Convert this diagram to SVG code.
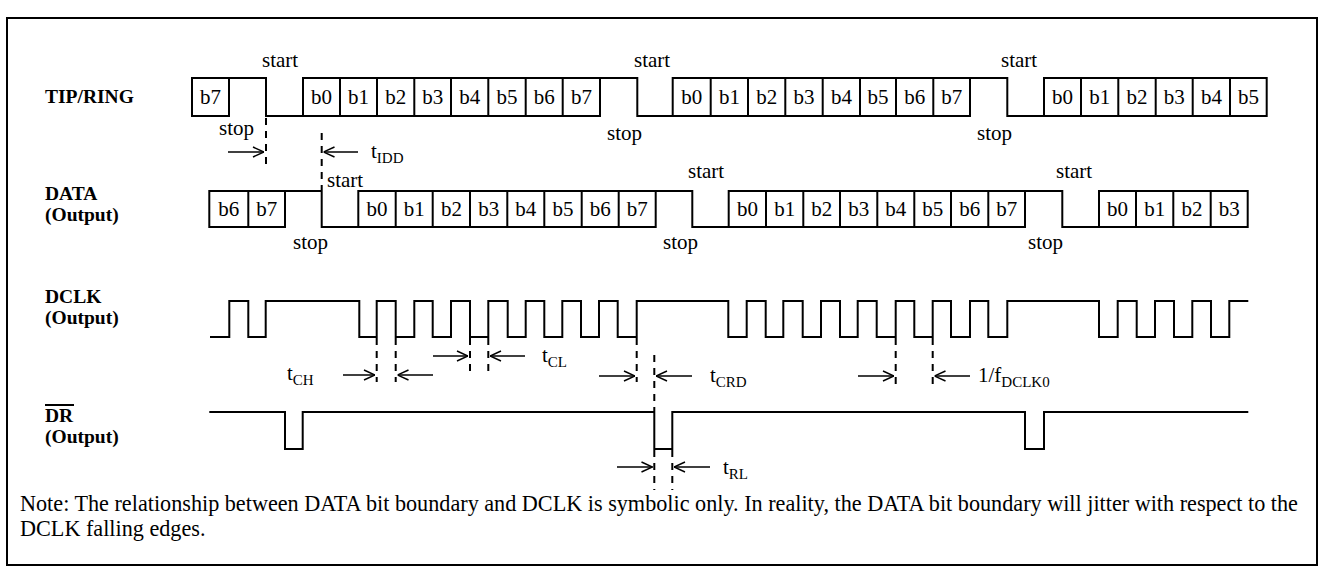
<svg xmlns="http://www.w3.org/2000/svg" width="1327" height="582" viewBox="0 0 1327 582">
<style>
.w{fill:none;stroke:#000;stroke-width:2;stroke-linejoin:miter}
.d{fill:none;stroke:#000;stroke-width:2;stroke-dasharray:7 6}
.a{fill:none;stroke:#000;stroke-width:1.5;marker-end:url(#ah)}
text{font-family:"Liberation Serif","Times New Roman",serif;fill:#000}
.t{font-size:21px}
.b{font-size:21px;text-anchor:middle}
.l{font-size:19.5px;font-weight:bold}
.n{font-size:22.2px}
.s{font-size:15px}
</style>
<defs>
<marker id="ah" viewBox="0 0 12 12" refX="12" refY="6" markerWidth="12" markerHeight="12" markerUnits="userSpaceOnUse" orient="auto">
<path d="M1,1 L12,6 L1,11" fill="none" stroke="#000" stroke-width="1.5"/>
</marker>
</defs>
<rect x="7" y="18" width="1310" height="547" fill="#fff" stroke="#000" stroke-width="2"/>

<g id="labels">
<text class="l" x="45" y="103">TIP/RING</text>
<text class="l" x="45" y="200">DATA</text>
<text class="l" x="45" y="221">(Output)</text>
<text class="l" x="45" y="303">DCLK</text>
<text class="l" x="45" y="324">(Output)</text>
<line x1="45" y1="405" x2="74" y2="405" stroke="#000" stroke-width="2"/>
<text class="l" x="45" y="422">DR</text>
<text class="l" x="45" y="443">(Output)</text>
</g>

<g id="tipring">
<path class="w" d="M192,78 H229 V116 H192 Z M229,78 H266 V116 H303 M303,78 H600 V116 H303 Z M340,78 V116 M377,78 V116 M414.3,78 V116 M451,78 V116 M488.3,78 V116 M525.7,78 V116 M562.7,78 V116 M600,78 H637.3 V116 H672.7 M672.7,78 H970 V116 H672.7 Z M710.7,78 V116 M748,78 V116 M785.3,78 V116 M822.7,78 V116 M860,78 V116 M896,78 V116 M933.3,78 V116 M970,78 H1007.3 V116 H1044 M1044,78 H1266.7 V116 H1044 Z M1081,78 V116 M1118.3,78 V116 M1155.7,78 V116 M1192.7,78 V116 M1230,78 V116"/>
<text class="b" x="210.5" y="104">b7</text>
<text class="b" x="321.5" y="104">b0</text>
<text class="b" x="358.5" y="104">b1</text>
<text class="b" x="395.7" y="104">b2</text>
<text class="b" x="432.7" y="104">b3</text>
<text class="b" x="469.7" y="104">b4</text>
<text class="b" x="507" y="104">b5</text>
<text class="b" x="544.2" y="104">b6</text>
<text class="b" x="581.4" y="104">b7</text>
<text class="b" x="691.7" y="104">b0</text>
<text class="b" x="729.4" y="104">b1</text>
<text class="b" x="766.7" y="104">b2</text>
<text class="b" x="804" y="104">b3</text>
<text class="b" x="841.4" y="104">b4</text>
<text class="b" x="878" y="104">b5</text>
<text class="b" x="914.7" y="104">b6</text>
<text class="b" x="951.7" y="104">b7</text>
<text class="b" x="1062.5" y="104">b0</text>
<text class="b" x="1099.7" y="104">b1</text>
<text class="b" x="1137" y="104">b2</text>
<text class="b" x="1174.2" y="104">b3</text>
<text class="b" x="1211.4" y="104">b4</text>
<text class="b" x="1248.4" y="104">b5</text>
<text class="t" x="262" y="67">start</text>
<text class="t" x="634" y="67">start</text>
<text class="t" x="1001" y="67">start</text>
<text class="t" x="219" y="135">stop</text>
<text class="t" x="607" y="140">stop</text>
<text class="t" x="977" y="140">stop</text>
</g>

<g id="data">
<path class="w" d="M209.3,191 H285 V227 H209.3 Z M248.3,191 V227 M285,191 H321.7 V227 H358.3 M358.3,191 H655.7 V227 H358.3 Z M395.7,191 V227 M432.7,191 V227 M470,191 V227 M507.3,191 V227 M544.3,191 V227 M581.7,191 V227 M618.7,191 V227 M655.7,191 H692.3 V227 H728.7 M728.7,191 H1025 V227 H728.7 Z M766,191 V227 M803.3,191 V227 M840,191 V227 M877.3,191 V227 M914.3,191 V227 M951,191 V227 M988.3,191 V227 M1025,191 H1062.3 V227 H1099 M1099,191 H1247.7 V227 H1099 Z M1136,191 V227 M1173.3,191 V227 M1210.7,191 V227"/>
<text class="b" x="228.8" y="216">b6</text>
<text class="b" x="266.7" y="216">b7</text>
<text class="b" x="377" y="216">b0</text>
<text class="b" x="414.2" y="216">b1</text>
<text class="b" x="451.4" y="216">b2</text>
<text class="b" x="488.7" y="216">b3</text>
<text class="b" x="525.8" y="216">b4</text>
<text class="b" x="563" y="216">b5</text>
<text class="b" x="600.2" y="216">b6</text>
<text class="b" x="637.2" y="216">b7</text>
<text class="b" x="747.4" y="216">b0</text>
<text class="b" x="784.7" y="216">b1</text>
<text class="b" x="821.7" y="216">b2</text>
<text class="b" x="858.7" y="216">b3</text>
<text class="b" x="895.8" y="216">b4</text>
<text class="b" x="932.7" y="216">b5</text>
<text class="b" x="969.7" y="216">b6</text>
<text class="b" x="1006.7" y="216">b7</text>
<text class="b" x="1117.5" y="216">b0</text>
<text class="b" x="1154.7" y="216">b1</text>
<text class="b" x="1192" y="216">b2</text>
<text class="b" x="1229.2" y="216">b3</text>
<text class="t" x="327" y="187">start</text>
<text class="t" x="688" y="178">start</text>
<text class="t" x="1056" y="178">start</text>
<text class="t" x="293" y="249">stop</text>
<text class="t" x="663" y="249">stop</text>
<text class="t" x="1028" y="249">stop</text>
</g>

<g id="dclk">
<path class="w" d="M210,337 H229.3 V301 H248.3 V337 H265.7 V301 H359.3 V337 H376.7 V301 H395.7 V337 H414.3 V301 H432.7 V337 H451 V301 H470 V337 H488.3 V301 H507.7 V337 H525.7 V301 H544.3 V337 H562.3 V301 H581 V337 H599 V301 H617.7 V337 H636.7 V301 H728.3 V337 H746.7 V301 H765.7 V337 H783.3 V301 H802.7 V337 H821 V301 H840 V337 H857.7 V301 H876.7 V337 H895.7 V301 H914.3 V337 H932.7 V301 H951 V337 H970 V301 H988.3 V337 H1007.3 V301 H1099 V337 H1117.7 V301 H1136.7 V337 H1155 V301 H1174 V337 H1192.3 V301 H1211 V337 H1229.3 V301 H1248.3"/>
</g>

<g id="dr">
<path class="w" d="M209.3,412 H285 V449 H302.7 V412 H654.3 V449 H672.3 V412 H1025 V449 H1044 V412 H1248.3"/>
</g>

<g id="connectors">
<path class="d" d="M266,118 V170 M321.7,133 V190 M376.7,338 V382 M395.7,338 V382 M470,338 V376 M488.3,338 V376 M636.7,338 V382 M654.3,355 V411 M654.3,450 V490 M672.3,450 V490 M895.7,338 V385 M932.7,338 V385"/>
<line class="a" x1="228" y1="152" x2="264" y2="152"/>
<line class="a" x1="358" y1="152" x2="323.5" y2="152"/>
<line class="a" x1="343" y1="375" x2="375" y2="375"/>
<line class="a" x1="433" y1="375" x2="397.5" y2="375"/>
<line class="a" x1="433" y1="356" x2="468" y2="356"/>
<line class="a" x1="525" y1="356" x2="490" y2="356"/>
<line class="a" x1="599" y1="376" x2="635" y2="376"/>
<line class="a" x1="692" y1="376" x2="656" y2="376"/>
<line class="a" x1="858" y1="376" x2="894" y2="376"/>
<line class="a" x1="970" y1="376" x2="934.5" y2="376"/>
<line class="a" x1="617" y1="467" x2="652.5" y2="467"/>
<line class="a" x1="710" y1="467" x2="674" y2="467"/>
</g>

<g id="timing-labels">
<text class="t" x="371" y="158">t<tspan class="s" dy="5">IDD</tspan></text>
<text class="t" x="287" y="380">t<tspan class="s" dy="5">CH</tspan></text>
<text class="t" x="542" y="362">t<tspan class="s" dy="5">CL</tspan></text>
<text class="t" x="710" y="382">t<tspan class="s" dy="5">CRD</tspan></text>
<text class="t" x="978" y="382">1/f<tspan class="s" dy="5">DCLK0</tspan></text>
<text class="t" x="723" y="474">t<tspan class="s" dy="5">RL</tspan></text>
</g>

<g id="note">
<text class="n" x="20" y="511">Note: The relationship between DATA bit boundary and DCLK is symbolic only. In reality, the DATA bit boundary will jitter with respect to the</text>
<text class="n" x="20" y="536">DCLK falling edges.</text>
</g>
</svg>
